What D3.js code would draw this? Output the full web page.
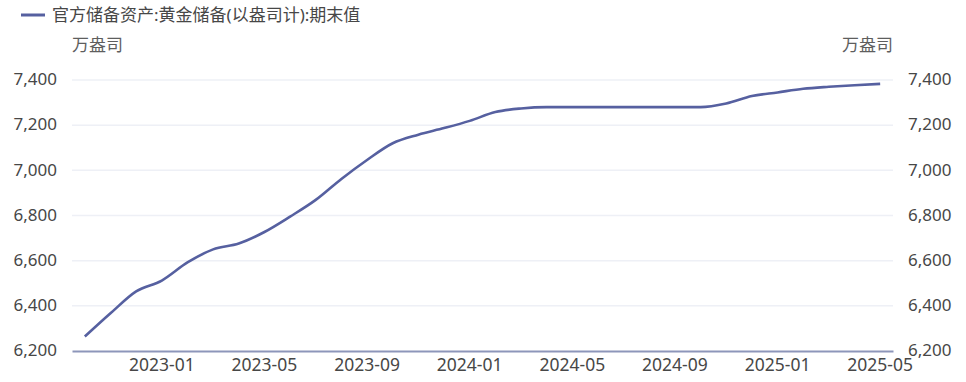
<!DOCTYPE html>
<html><head><meta charset="utf-8">
<script src="https://cdn.jsdelivr.net/npm/d3@7"></script>
<style>body{margin:0;background:#fff;}text{font-family:"Noto Sans","Noto Sans CJK SC",sans-serif;}</style>
</head><body><svg id="c" width="966" height="382"></svg>
<script>
const months = ["2022-10","2022-11","2022-12","2023-01","2023-02","2023-03","2023-04","2023-05","2023-06","2023-07","2023-08","2023-09","2023-10","2023-11","2023-12","2024-01","2024-02","2024-03","2024-04","2024-05","2024-06","2024-07","2024-08","2024-09","2024-10","2024-11","2024-12","2025-01","2025-02","2025-03","2025-04","2025-05"];
const values = [6264,6367,6464,6512,6592,6650,6676,6727,6795,6869,6962,7046,7120,7158,7187,7219,7258,7274,7280,7280,7280,7280,7280,7280,7280,7296,7329,7345,7361,7370,7377,7383];
const xTickLabels = ["2023-01","2023-05","2023-09","2024-01","2024-05","2024-09","2025-01","2025-05"];
const yTicks = [6200,6400,6600,6800,7000,7200,7400];
const seriesName = "官方储备资产:黄金储备(以盎司计):期末值";
const unit = "万盎司";

const svg = d3.select("#c");
const L = 72, R = 893, T = 80, B = 351;
const x = d3.scaleBand().domain(months).range([L, R]);
const y = d3.scaleLinear().domain([6200, 7400]).range([B, T]);
const cx = d => x(d) + x.bandwidth() / 2;
const textColor = "#474747";
const unitColor = "#5e5e5e";
const fs = 17;

svg.append("g").selectAll("line").data(yTicks.filter(t => t !== 6200)).join("line")
  .attr("x1", L).attr("x2", R).attr("y1", d => y(d)).attr("y2", d => y(d))
  .attr("stroke", "#eef0f6").attr("stroke-width", 1.5);

const yl = svg.append("g").attr("transform", `translate(${L},0)`)
  .call(d3.axisLeft(y).tickValues(yTicks).tickSize(0).tickPadding(15).tickFormat(d3.format(",")));
yl.select(".domain").remove();
yl.selectAll("text").attr("fill", textColor).style("font-size", fs + "px").attr("dy", "0.28em");

const yr = svg.append("g").attr("transform", `translate(${R},0)`)
  .call(d3.axisRight(y).tickValues(yTicks).tickSize(0).tickPadding(15).tickFormat(d3.format(",")));
yr.select(".domain").remove();
yr.selectAll("text").attr("fill", textColor).style("font-size", fs + "px").attr("dy", "0.28em");

const xa = svg.append("g").attr("transform", `translate(0,${B})`)
  .call(d3.axisBottom(x).tickValues(xTickLabels).tickSize(0).tickPadding(8));
xa.select(".domain").attr("stroke", "#8d96ba").attr("stroke-width", 2);
xa.selectAll("text").attr("fill", textColor).style("font-size", "17.5px");

const line = d3.line().x((d, i) => cx(months[i])).y(d => y(d)).curve(d3.curveMonotoneX);
svg.append("path").datum(values).attr("d", line)
  .attr("fill", "none").attr("stroke", "#5660a0").attr("stroke-width", 2.6);

svg.append("text").attr("x", 72).attr("y", 51).text(unit)
  .attr("fill", unitColor).style("font-size", fs + "px");
svg.append("text").attr("x", R).attr("y", 51).attr("text-anchor", "end").text(unit)
  .attr("fill", unitColor).style("font-size", fs + "px");

svg.append("line").attr("x1", 21).attr("x2", 45).attr("y1", 15).attr("y2", 15)
  .attr("stroke", "#5660a0").attr("stroke-width", 3);
svg.append("text").attr("x", 52).attr("y", 21).text(seriesName)
  .attr("fill", textColor).style("font-size", fs + "px");
</script></body></html>
